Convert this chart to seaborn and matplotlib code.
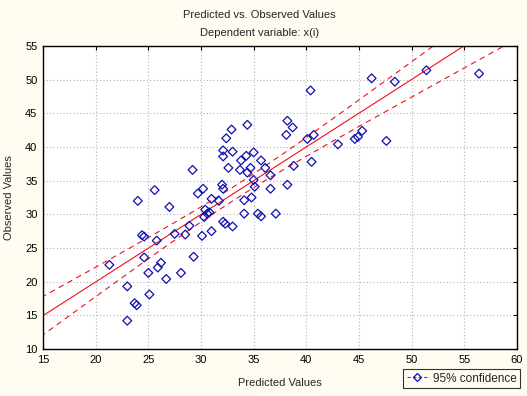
import numpy as np
import pandas as pd
import matplotlib
matplotlib.use("Agg")
import matplotlib.pyplot as plt
from matplotlib.lines import Line2D
import seaborn as sns

# -- data -------------------------------------------------------
predicted = [38.2, 38.1, 38.2, 34.4, 32.9, 32.4, 32.1, 32.1, 33.0, 35.0,
             34.3, 33.8, 35.7, 36.1, 34.7, 33.7, 32.6, 34.4, 29.2, 36.6,
             35.0, 35.1, 36.6, 32.0, 32.1, 25.6, 30.2, 29.7, 31.0, 31.7,
             34.1, 34.8, 24.0, 27.0, 30.4, 30.8, 30.6, 34.1, 35.4, 35.7,
             37.1, 30.3, 32.1, 32.3, 33.0, 30.1, 31.0, 28.9, 28.5, 27.5,
             24.4, 24.6, 25.8, 29.3, 24.6, 21.3, 26.2, 25.9, 25.0, 28.1,
             26.7, 23.0, 25.1, 23.7, 23.9, 23.0, 51.4, 56.4, 46.2, 48.4,
             40.4, 38.7, 40.1, 40.7, 43.0, 44.6, 44.9, 45.3, 47.6, 38.8,
             40.5]
observed = [43.9, 41.8, 34.4, 43.3, 42.6, 41.3, 39.5, 38.6, 39.3, 39.2,
            38.7, 38.0, 38.0, 36.9, 36.9, 36.6, 36.9, 36.2, 36.6, 35.8,
            35.1, 34.1, 33.8, 34.4, 33.8, 33.6, 33.8, 33.1, 32.3, 32.0,
            32.1, 32.5, 32.0, 31.1, 30.7, 30.3, 30.1, 30.1, 30.1, 29.7,
            30.1, 29.6, 28.9, 28.6, 28.2, 26.8, 27.5, 28.3, 27.0, 27.1,
            26.9, 26.7, 26.1, 23.7, 23.6, 22.5, 22.8, 22.1, 21.3, 21.3,
            20.4, 19.3, 18.1, 16.8, 16.5, 14.2, 51.4, 50.9, 50.2, 49.7,
            48.4, 42.9, 41.2, 41.8, 40.4, 41.2, 41.5, 42.4, 40.9, 37.2,
            37.8]
x_ticks = [15, 20, 25, 30, 35, 40, 45, 50, 55, 60]
y_ticks = [10, 15, 20, 25, 30, 35, 40, 45, 50, 55]

df = pd.DataFrame({"Predicted": predicted, "Observed": observed})

# -- regression line and 95% confidence band --------------------
x = df["Predicted"].values
y = df["Observed"].values
n = len(x)
slope, intercept = np.polyfit(x, y, 1)
resid = y - (intercept + slope * x)
s = np.sqrt(np.sum(resid ** 2) / (n - 2))
sxx = np.sum((x - x.mean()) ** 2)
t_val = 1.990
xg = np.linspace(14, 61, 200)
yg = intercept + slope * xg
hw = t_val * s * np.sqrt(1.0 / n + (xg - x.mean()) ** 2 / sxx)

# -- figure -----------------------------------------------------
sns.set_style("white")
plt.rcParams["font.family"] = ["Liberation Sans", "DejaVu Sans"]

bg = "#FFFCF2"
red = "#F0101A"
blue = "#1010B0"

fig = plt.figure(figsize=(5.27, 3.96), dpi=100, facecolor=bg)
ax = fig.add_axes([0.0816, 0.1187, 0.8994, 0.7651])
ax.set_facecolor("white")

ax.grid(True, color="#B4B4B4", linestyle=(0, (1, 2)), linewidth=0.8)
ax.set_axisbelow(True)

ax.plot(xg, yg, color=red, linewidth=0.8, zorder=2)
ax.plot(xg, yg + hw, color=red, linewidth=0.8, dashes=(5, 4), zorder=2)
ax.plot(xg, yg - hw, color=red, linewidth=0.8, dashes=(5, 4), zorder=2)

sns.scatterplot(data=df, x="Predicted", y="Observed", marker="D", s=20,
                facecolor="none", edgecolor=blue, linewidth=0.9,
                ax=ax, zorder=3)

ax.set_xlim(15, 60)
ax.set_ylim(10, 55)
ax.set_xticks(x_ticks)
ax.set_yticks(y_ticks)
ax.tick_params(direction="in", length=3, width=0.8, labelsize=8,
               colors="black", top=True, right=True, pad=4)
for sp in ax.spines.values():
    sp.set_visible(True)
    sp.set_color("black")
    sp.set_linewidth(1.0)

ax.set_xlabel("Predicted Values", fontsize=8, labelpad=10)
ax.set_ylabel("Observed Values", fontsize=8, labelpad=8)

fig.text(0.492, 0.962, "Predicted vs. Observed Values", ha="center",
         va="center", fontsize=8)
fig.text(0.492, 0.917, "Dependent variable: x(i)", ha="center",
         va="center", fontsize=8)

handle = Line2D([0], [0], color=red, linewidth=0.8, dashes=(3, 2),
                marker="D", markersize=4.5, markerfacecolor="none",
                markeredgecolor=blue, markeredgewidth=0.9)
leg = fig.legend([handle], ["95% confidence"], loc="lower right",
                 bbox_to_anchor=(0.998, 0.005), fontsize=8.5, frameon=True,
                 fancybox=False, edgecolor="black", facecolor=bg,
                 handlelength=1.8, handletextpad=0.4, borderpad=0.3)
leg.get_frame().set_linewidth(0.8)

fig.savefig("out.png", dpi=100, facecolor=bg)
